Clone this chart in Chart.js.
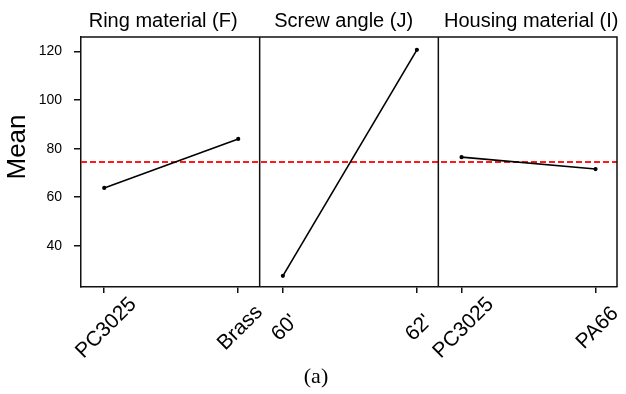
<!DOCTYPE html>
<html>
<head>
<meta charset="utf-8">
<script src="https://cdn.jsdelivr.net/npm/chart.js@4.4.1/dist/chart.umd.min.js"></script>
<style>
  body { margin: 0; background: #fff; }
  canvas { display: block; }
</style>
</head>
<body>
<canvas id="mainEffects" width="626" height="394"></canvas>
<script>
const panelTitles = ["Ring material (F)", "Screw angle (J)", "Housing material (I)"];
const levelLabels = [["PC3025", "Brass"], ["60'", "62'"], ["PC3025", "PA66"]];
const ringMeans = [63.8, 84.0];
const screwMeans = [27.6, 120.7];
const housingMeans = [76.5, 71.6];
const grandMean = 74.5;
const yTicks = [40, 60, 80, 100, 120];

// where the two levels sit inside each panel (panel i spans i..i+1)
const levelPos = [0.13, 0.88];
const titlePos = [0.46, 1.47, 2.52];

const xTicks = [];
panelTitles.forEach((t, i) => levelPos.forEach(p => xTicks.push(i + p)));

function panelData(i, means) {
	return means.map((m, j) => ({ x: i + levelPos[j], y: m }));
}

const lineStyle = {
	borderColor: "#000",
	backgroundColor: "#000",
	borderWidth: 1.6,
	pointRadius: 1.3,
	pointHoverRadius: 1.3,
	tension: 0,
};

const framePlugin = {
	id: "frame",
	afterDraw(chart) {
		const { ctx, chartArea: a, scales } = chart;
		const xs = scales.x;
		ctx.save();
		ctx.strokeStyle = "#111";
		ctx.lineWidth = 1.5;
		ctx.beginPath();
		ctx.moveTo(a.left, a.top);
		ctx.lineTo(a.right, a.top);
		ctx.lineTo(a.right, a.bottom);
		[1, 2].forEach(v => {
			const px = xs.getPixelForValue(v);
			ctx.moveTo(px, a.top);
			ctx.lineTo(px, a.bottom);
		});
		ctx.stroke();

		ctx.fillStyle = "#000";
		// panel titles
		ctx.font = "20px 'Liberation Sans', Arial, sans-serif";
		ctx.textAlign = "center";
		ctx.textBaseline = "alphabetic";
		panelTitles.forEach((t, i) => {
			ctx.fillText(t, xs.getPixelForValue(titlePos[i]), 27);
		});

		// level labels, rotated 45 degrees about their centre
		ctx.font = "21px 'Liberation Sans', Arial, sans-serif";
		ctx.textBaseline = "middle";
		levelLabels.forEach((pair, i) => {
			pair.forEach((lab, j) => {
				const px = xs.getPixelForValue(i + levelPos[j]) + 2;
				ctx.save();
				ctx.translate(px, 328);
				ctx.rotate(-Math.PI / 4);
				ctx.fillText(lab, 0, 0);
				ctx.restore();
			});
		});

		// y axis title
		ctx.font = "26px 'Liberation Sans', Arial, sans-serif";
		ctx.save();
		ctx.translate(18, 147);
		ctx.rotate(-Math.PI / 2);
		ctx.fillText("Mean", 0, 0);
		ctx.restore();

		// caption
		ctx.font = "22px 'Liberation Serif', 'Times New Roman', serif";
		ctx.fillText("(a)", 316, 377);
		ctx.restore();
	},
};

const ctx = document.getElementById("mainEffects").getContext("2d");
const chart = new Chart(ctx, {
	type: "line",
	data: {
		datasets: [
			{ ...lineStyle, label: panelTitles[0], data: panelData(0, ringMeans) },
			{ ...lineStyle, label: panelTitles[1], data: panelData(1, screwMeans) },
			{ ...lineStyle, label: panelTitles[2], data: panelData(2, housingMeans) },
			{
				label: "Grand mean",
				data: [{ x: 0, y: grandMean }, { x: 3, y: grandMean }],
				borderColor: "#ff1a1a",
				borderWidth: 1.8,
				borderDash: [6, 3],
				pointRadius: 0,
			},
		],
	},
	options: {
		responsive: false,
		animation: false,
		layout: { padding: { top: 37, right: 9, left: 0, bottom: 0 } },
		plugins: {
			legend: { display: false },
			tooltip: { enabled: false },
		},
		scales: {
			x: {
				type: "linear",
				min: 0,
				max: 3,
				afterBuildTicks: s => { s.ticks = xTicks.map(v => ({ value: v })); },
				afterFit: s => { s.height = 107; },
				ticks: { display: false },
				grid: { drawOnChartArea: false, tickLength: 6, color: "#111", lineWidth: 1.5 },
				border: { color: "#111", width: 1.5 },
			},
			y: {
				min: 23,
				max: 126,
				afterBuildTicks: s => { s.ticks = yTicks.map(v => ({ value: v })); },
				afterFit: s => { s.width = 81; },
				ticks: {
					color: "#000",
					padding: 12,
					font: { family: "'Liberation Sans', Arial, sans-serif", size: 14 },
				},
				grid: { drawOnChartArea: false, tickLength: 7, color: "#111", lineWidth: 1.5 },
				border: { color: "#111", width: 1.5 },
			},
		},
	},
	plugins: [framePlugin],
});
</script>
</body>
</html>
